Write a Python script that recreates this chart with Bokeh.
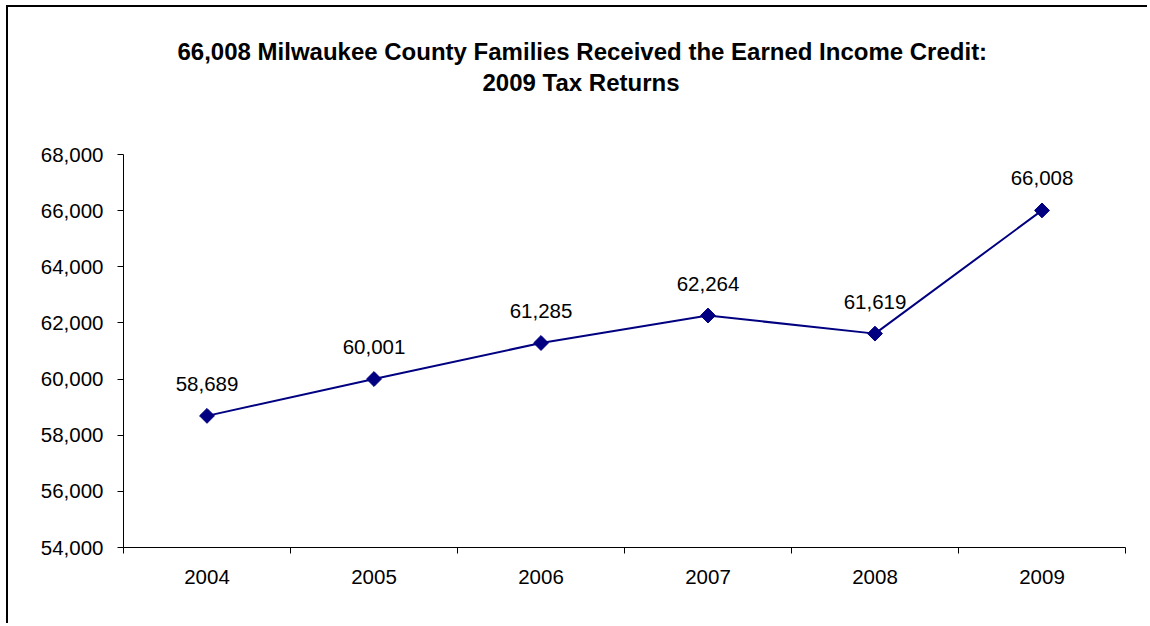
import numpy as np
from bokeh.plotting import figure
from bokeh.models import (ColumnDataSource, Range1d, FixedTicker, NumeralTickFormatter,
                          CustomJSTickFormatter, Title)
from bokeh.core.properties import value
from bokeh.embed import file_html
from bokeh.resources import INLINE

# ---- data ----
title_lines = ["66,008 Milwaukee County Families Received the Earned Income Credit:",
               "2009 Tax Returns"]
years = ["2004", "2005", "2006", "2007", "2008", "2009"]
families = [58689, 60001, 61285, 62264, 61619, 66008]
y_ticks = [54000, 56000, 58000, 60000, 62000, 64000, 66000, 68000]

FONT = "Liberation Sans"
NAVY = "#000080"

xpos = np.arange(len(years)) + 0.5
src = ColumnDataSource(dict(x=xpos, y=families,
                            label=[f"{v:,}" for v in families]))

p = figure(width=1141, height=618, output_backend="svg", toolbar_location=None,
           x_range=Range1d(0, len(years)), y_range=Range1d(y_ticks[0], y_ticks[-1]),
           min_border_left=115, min_border_right=24, min_border_top=147,
           min_border_bottom=78)
p.styles = {"border-left": "2px solid black", "border-top": "2px solid black",
            "margin-left": "6px", "margin-top": "5px"}
p.outline_line_color = None
p.xgrid.visible = False
p.ygrid.visible = False
p.background_fill_color = "white"
p.border_fill_color = "white"

title_style = dict(text_font=FONT, text_font_size="24px", text_font_style="bold",
                   text_color="black")

# title: two lines, each its own Title in the "above" panel (plus a blank gap)
p.title.text = title_lines[0]
p.title.align = "left"
p.title.offset = 54
p.title.standoff = 1
for k, v in title_style.items():
    setattr(p.title, k, v)
p.add_layout(Title(text=" ", align="left", standoff=29, **title_style), "above")
p.add_layout(Title(text=title_lines[1], align="left", offset=359, standoff=2,
                   **title_style), "above")

# x axis: labels at category centres, ticks at category boundaries
xa = p.xaxis[0]
xa.ticker = FixedTicker(ticks=list(xpos), minor_ticks=list(range(len(years) + 1)))
xa.formatter = CustomJSTickFormatter(args=dict(years=years),
                                     code="return years[Math.floor(tick)] || ''")
xa.major_tick_out = 0
xa.major_tick_in = 0
xa.minor_tick_out = 6
xa.minor_tick_in = 0
xa.minor_tick_line_color = "black"
xa.axis_line_color = "black"
xa.major_label_standoff = 16
xa.major_label_text_font = FONT
xa.major_label_text_font_size = "20.5px"
xa.major_label_text_color = "black"

ya = p.yaxis[0]
ya.ticker = FixedTicker(ticks=y_ticks)
ya.formatter = NumeralTickFormatter(format="0,0")
ya.major_tick_out = 6
ya.major_tick_in = 0
ya.minor_tick_line_color = None
ya.major_tick_line_color = "black"
ya.axis_line_color = "black"
ya.major_label_standoff = 14
ya.major_label_text_font = FONT
ya.major_label_text_font_size = "20.5px"
ya.major_label_text_color = "black"

p.line("x", "y", source=src, line_color=NAVY, line_width=2)
p.scatter("x", "y", source=src, marker="square", angle=np.pi / 4, size=10.5,
          fill_color=NAVY, line_color=NAVY)
p.text("x", "y", text="label", source=src, y_offset=-32, text_align="center",
       text_baseline="middle", text_font=value(FONT), text_font_size="20.5px",
       text_color="black")

open("out.html", "w").write(file_html(p, INLINE))
